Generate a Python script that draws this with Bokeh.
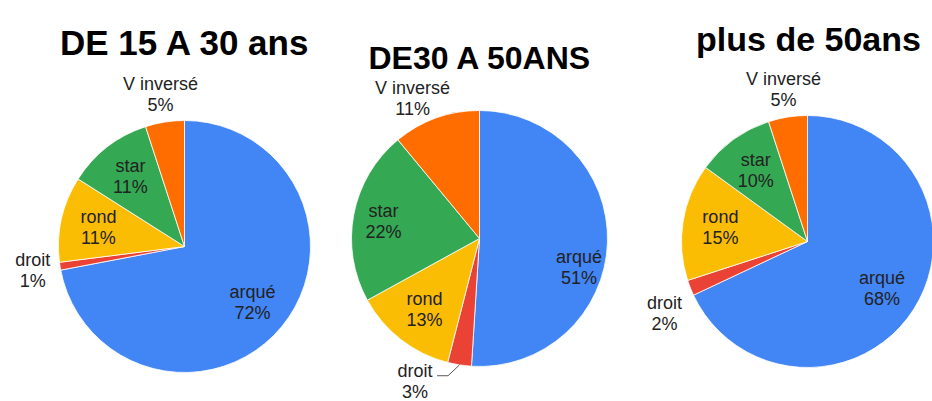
import numpy as np
from bokeh.plotting import figure
from bokeh.models import Range1d, ColumnDataSource
from bokeh.core.properties import value
from bokeh.embed import file_html
from bokeh.resources import INLINE

# ---------------- data ----------------
CATEGORIES = ["arqué", "droit", "rond", "star", "V inversé"]
TITLES = ["DE 15 A 30 ans", "DE30 A 50ANS", "plus de 50ans"]
PCT_15_30 = [72, 1, 11, 11, 5]
PCT_30_50 = [51, 3, 13, 22, 11]
PCT_50_PLUS = [68, 2, 15, 10, 5]
SERIES = [PCT_15_30, PCT_30_50, PCT_50_PLUS]

# ---------------- style / layout ----------------
COLORS = ["#4285F4", "#EA4335", "#FBBC04", "#34A853", "#FF6D01"]
PIE_CENTERS = [(184, 246), (479, 238), (807, 241)]   # pixel layout, y downward
PIE_RADII = [126, 128, 126]
TITLE_POS = [(185, 42), (480, 57), (808, 38)]
TITLE_SIZES = ["35px", "32px", "34px"]
OUTSIDE = {"droit", "V inversé"}
LABEL_SHIFT = {(1, "arqué"): (10, 26), (1, "droit"): (-40, -11),
               (1, "V inversé"): (-14, 7), (1, "star"): (-8, 0),
               (2, "droit"): (0, 15)}
LEADER = {(1, "droit")}
FONT = "Liberation Sans"
LABEL_COLOR = "#222222"
LABEL_SIZE = "18px"

W, H = 932, 401


def Y(y):
    return H - y


p = figure(width=W, height=H, output_backend="svg", toolbar_location=None,
           x_range=Range1d(0, W), y_range=Range1d(0, H),
           min_border=0)
p.axis.visible = False
p.grid.visible = False
p.outline_line_color = None
p.background_fill_color = "white"
p.border_fill_color = "white"

for i, vals in enumerate(SERIES):
    cx, cy = PIE_CENTERS[i]
    r = PIE_RADII[i]
    v = np.array(vals, dtype=float)
    frac = v / v.sum()
    c1 = np.cumsum(frac)
    c0 = c1 - frac
    src = ColumnDataSource(dict(
        x=[cx] * len(v), y=[Y(cy)] * len(v),
        start=list(np.pi / 2 - 2 * np.pi * c0),
        end=list(np.pi / 2 - 2 * np.pi * c1),
        color=COLORS, cat=CATEGORIES))
    p.wedge(x="x", y="y", radius=r, radius_units="data",
            start_angle="start", end_angle="end", direction="clock",
            fill_color="color", line_color="white", line_width=0.8, source=src)

    # labels
    nx, ny, px_, py_, names, pcts = [], [], [], [], [], []
    for k, cat in enumerate(CATEGORIES):
        th = 2 * np.pi * (c0[k] + c1[k]) / 2
        f = 1.22 if cat in OUTSIDE else 0.7
        ax = cx + f * r * np.sin(th)
        ay = cy - f * r * np.cos(th)
        dx, dy = LABEL_SHIFT.get((i, cat), (0, 0))
        ax += dx
        ay += dy
        nx.append(ax); ny.append(Y(ay - 10.5))
        px_.append(ax); py_.append(Y(ay + 10.5))
        names.append(cat)
        pcts.append(f"{vals[k]}%")
        if (i, cat) in LEADER:
            ex = cx + r * np.sin(th)
            ey = cy - r * np.cos(th)
            p.line([ax + 22, ax + 33, ex], [Y(ay - 6), Y(ay - 6), Y(ey)],
                   line_color="#555555", line_width=1)
    p.text(x=nx, y=ny, text=names, text_font=value(FONT), text_font_size=LABEL_SIZE,
           text_color=LABEL_COLOR, text_align="center", text_baseline="middle")
    p.text(x=px_, y=py_, text=pcts, text_font=value(FONT), text_font_size=LABEL_SIZE,
           text_color=LABEL_COLOR, text_align="center", text_baseline="middle")

    tx, ty = TITLE_POS[i]
    p.text(x=[tx], y=[Y(ty)], text=[TITLES[i]], text_font=value(FONT),
           text_font_size=TITLE_SIZES[i], text_font_style="bold",
           text_color="#000000", text_align="center", text_baseline="alphabetic")

open("out.html", "w").write(file_html(p, INLINE))
